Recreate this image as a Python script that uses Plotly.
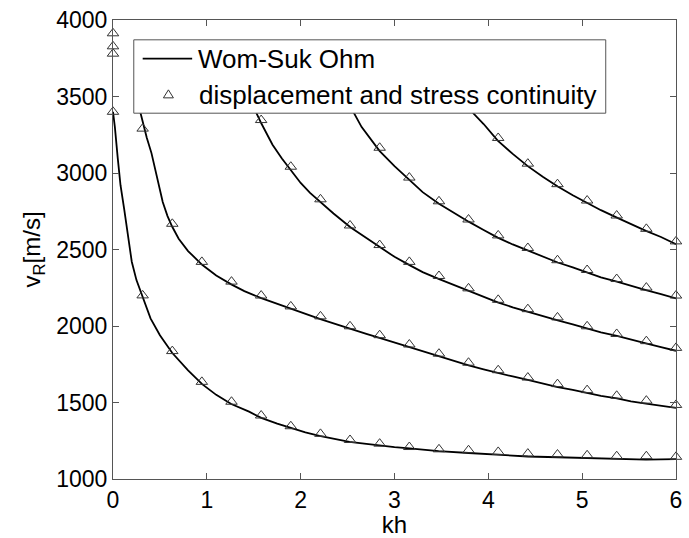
import plotly.graph_objects as go

# ---- Data: analytic curves (Wom-Suk Ohm) ----
kh_line0 = [0, 0.02, 0.05, 0.08, 0.12, 0.16, 0.2, 0.25, 0.32, 0.4, 0.5, 0.63, 0.8, 0.95, 1.1, 1.26,
            1.45, 1.58, 1.75, 1.89, 2.05, 2.2, 2.4, 2.52, 2.7, 2.84, 3.0, 3.16, 3.47, 3.79, 4.1, 4.42,
            4.74, 5.05, 5.37, 5.68, 6.0]
v_line0 = [3400, 3300, 3100, 2920, 2760, 2600, 2420, 2300, 2180, 2050, 1940, 1825, 1710, 1620, 1550, 1490,
           1440, 1400, 1362, 1333, 1305, 1282, 1258, 1243, 1230, 1218, 1208, 1200, 1182, 1170, 1160, 1147,
           1142, 1138, 1132, 1126, 1130]

kh_line1 = [0.29, 0.32, 0.36, 0.41, 0.47, 0.53, 0.58, 0.63, 0.7, 0.8, 0.95, 1.1, 1.26, 1.4, 1.58, 1.75,
            1.89, 2.05, 2.21, 2.4, 2.53, 2.7, 2.84, 3.0, 3.16, 3.3, 3.47, 3.63, 3.79, 3.95, 4.1, 4.26,
            4.42, 4.58, 4.74, 4.9, 5.05, 5.2, 5.37, 5.52, 5.68, 5.84, 6.0]
v_line1 = [3400, 3320, 3230, 3130, 2960, 2810, 2720, 2650, 2570, 2490, 2400, 2330, 2272, 2228, 2182, 2144,
           2112, 2078, 2045, 2008, 1980, 1948, 1922, 1892, 1862, 1832, 1800, 1770, 1742, 1717, 1692, 1670,
           1648, 1622, 1600, 1582, 1562, 1543, 1527, 1508, 1493, 1478, 1465]

kh_line2 = [1.48, 1.53, 1.58, 1.7, 1.8, 1.89, 2.0, 2.1, 2.21, 2.35, 2.53, 2.7, 2.84, 3.0, 3.16, 3.3,
            3.47, 3.63, 3.79, 3.95, 4.1, 4.26, 4.42, 4.58, 4.74, 4.9, 5.05, 5.2, 5.37, 5.52, 5.68, 5.84, 6.0]
v_line2 = [3480, 3390, 3325, 3185, 3095, 3020, 2935, 2870, 2810, 2735, 2645, 2575, 2515, 2452, 2398, 2352,
           2308, 2268, 2228, 2190, 2155, 2122, 2092, 2062, 2037, 2010, 1982, 1958, 1935, 1910, 1887, 1862, 1838]

kh_line3 = [2.52, 2.57, 2.65, 2.75, 2.84, 3.0, 3.16, 3.3, 3.47, 3.63, 3.79, 3.95, 4.1, 4.26, 4.42, 4.58,
            4.74, 4.9, 5.05, 5.2, 5.37, 5.52, 5.68, 5.84, 6.0]
v_line3 = [3470, 3390, 3300, 3215, 3145, 3045, 2955, 2875, 2800, 2740, 2682, 2628, 2578, 2533, 2493, 2453,
           2415, 2383, 2350, 2318, 2290, 2262, 2235, 2208, 2180]

kh_line4 = [3.78, 3.84, 3.95, 4.1, 4.26, 4.42, 4.58, 4.74, 4.9, 5.05, 5.2, 5.37, 5.52, 5.68, 5.84, 6.0]
v_line4 = [3470, 3390, 3320, 3212, 3125, 3045, 2975, 2912, 2855, 2805, 2757, 2708, 2666, 2622, 2582, 2535]

# ---- Data: numerical points (displacement and stress continuity) ----
kh_pts = [0.0, 0.316, 0.632, 0.947, 1.263, 1.579, 1.895, 2.211, 2.526, 2.842, 3.158, 3.474, 3.789,
          4.105, 4.421, 4.737, 5.053, 5.368, 5.684, 6.0]
v_pts0 = [3400, 2200, 1836, 1635, 1505, 1415, 1345, 1295, 1255, 1231, 1209, 1194, 1188, 1177, 1166,
          1160, 1155, 1149, 1149, 1145]
v_pts1 = [None, 3290, 2668, 2419, 2290, 2199, 2128, 2063, 1998, 1940, 1879, 1819, 1760, 1711, 1663,
          1620, 1581, 1544, 1512, 1484]
v_pts2 = [None, None, None, None, None, 3346, 3041, 2828, 2657, 2529, 2419, 2327, 2246, 2171, 2110,
          2056, 1998, 1948, 1901, 1857]
v_pts3 = [None, None, None, None, None, None, None, None, None, 3165, 2970, 2815, 2696, 2592, 2510,
          2430, 2366, 2307, 2251, 2199]
v_pts4 = [None, None, None, None, None, None, None, None, None, None, None, None, None, 3229, 3061,
          2927, 2820, 2722, 2635, 2553]
kh_extra = [0.0, 0.0, 0.0]
v_extra = [3780, 3828, 3913]

x_ticks = [0, 1, 2, 3, 4, 5, 6]
y_ticks = [1000, 1500, 2000, 2500, 3000, 3500, 4000]
legend_labels = ["Wom-Suk Ohm", "displacement and stress continuity"]

fig = go.Figure()

line_sets = [(kh_line0, v_line0), (kh_line1, v_line1), (kh_line2, v_line2),
             (kh_line3, v_line3), (kh_line4, v_line4)]
for i, (kx, vy) in enumerate(line_sets):
    fig.add_trace(go.Scatter(x=kx, y=vy, mode="lines", line=dict(color="black", width=1.8),
                             name=legend_labels[0], showlegend=False))

px, py = [], []
for vs in [v_pts0, v_pts1, v_pts2, v_pts3, v_pts4]:
    for k, v in zip(kh_pts, vs):
        if v is not None:
            px.append(k)
            py.append(v)
px += kh_extra
py += v_extra
fig.add_trace(go.Scatter(x=px, y=py, mode="markers",
                         marker=dict(symbol="triangle-up-open", size=10, color="#333333",
                                     line=dict(width=1)),
                         name=legend_labels[1], showlegend=False, cliponaxis=False))

fam = "Liberation Sans, Arial, sans-serif"
tick_font = dict(family=fam, size=23, color="black")
title_font = dict(family=fam, size=24, color="black")
legend_font = dict(family=fam, size=26, color="black")

# ---- Legend box (drawn as shapes + annotations to match the compact layout) ----
L, R, T, B = 113, 682, 16, 479          # plot-area pixel edges
def px2x(p):
    return (p - L) / (R - L)
def px2y(p):
    return (B - p) / (B - T)

shapes = [
    dict(type="rect", xref="paper", yref="paper", x0=px2x(134), x1=px2x(611),
         y0=px2y(110), y1=px2y(36), fillcolor="white", line=dict(color="#555", width=1),
         layer="above"),
    dict(type="line", xref="paper", yref="paper", x0=px2x(143), x1=px2x(193),
         y0=px2y(55), y1=px2y(55), line=dict(color="black", width=1.8), layer="above"),
    dict(type="path", xref="paper", yref="paper", xsizemode="pixel", ysizemode="pixel",
         xanchor=px2x(169), yanchor=px2y(91), path="M-5,-3.5 L5,-3.5 L0,4.5 Z",
         line=dict(color="#333333", width=1), fillcolor="rgba(0,0,0,0)", layer="above"),
]
annotations = [
    dict(xref="paper", yref="paper", x=px2x(197), y=px2y(55), text=legend_labels[0],
         showarrow=False, xanchor="left", yanchor="middle", font=legend_font),
    dict(xref="paper", yref="paper", x=px2x(198), y=px2y(92), text=legend_labels[1],
         showarrow=False, xanchor="left", yanchor="middle", font=legend_font),
]

fig.update_layout(
    width=689, height=538,
    margin=dict(l=L, r=689 - R, t=T, b=538 - B),
    paper_bgcolor="white", plot_bgcolor="white",
    font=tick_font,
    showlegend=False,
    shapes=shapes,
    annotations=annotations,
)
fig.update_xaxes(range=[0, 6], tickvals=x_ticks, ticks="inside", ticklen=6, tickcolor="#555",
                 showline=True, linecolor="#555", linewidth=1, mirror="ticks",
                 showgrid=False, zeroline=False,
                 title=dict(text="kh", font=title_font, standoff=2), tickfont=tick_font)
fig.update_yaxes(range=[1000, 4000], tickvals=y_ticks, ticks="inside", ticklen=6, tickcolor="#555",
                 showline=True, linecolor="#555", linewidth=1, mirror="ticks",
                 showgrid=False, zeroline=False,
                 title=dict(text="v<sub>R</sub>[m/s]", font=title_font, standoff=8), tickfont=tick_font)

fig.write_html("out.html")
